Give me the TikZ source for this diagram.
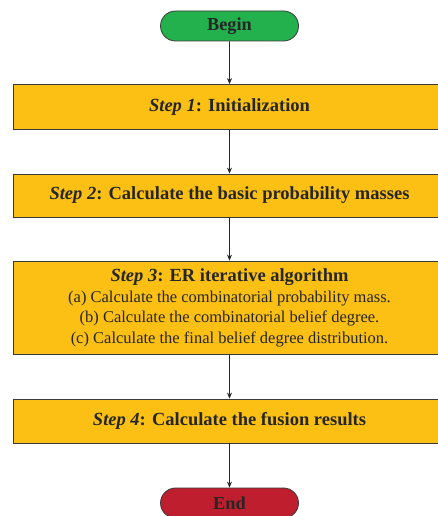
\documentclass[tikz,border=0pt]{standalone}
\usepackage{fontspec}
\setmainfont{Liberation Serif}
\usetikzlibrary{arrows.meta,shapes.misc}
\definecolor{startgreen}{HTML}{22B14C}
\definecolor{stepyellow}{HTML}{FBC013}
\definecolor{endred}{HTML}{BE1E2D}
\definecolor{edgegrey}{HTML}{3A3A3A}
\tikzset{
  x=1pt, y=-1pt,
  terminal/.style={rounded rectangle, draw=edgegrey, line width=0.8pt,
    minimum width=138pt, minimum height=30pt, inner sep=0pt,
    font=\bfseries\fontsize{18.3}{20}\selectfont, text=black!85},
  stepbox/.style={rectangle, draw=edgegrey, line width=0.8pt, fill=stepyellow,
    minimum width=433pt, inner sep=0pt, align=center,
    font=\fontsize{16.5}{20.3}\selectfont, text=black!85},
  headtext/.style={font=\bfseries\fontsize{18.5}{21}\selectfont},
  flow/.style={-{Stealth[length=6pt,width=5pt]}, line width=0.6pt, draw=black!85}
}
\newcommand{\headline}[1]{{\bfseries\fontsize{18.5}{21}\selectfont #1}}
\begin{document}
\begin{tikzpicture}
\useasboundingbox (0,0) rectangle (438,516);
\clip (0,0) rectangle (438,516);
\node[terminal, fill=startgreen] (begin) at (229.5,26) {Begin};
\node[stepbox, minimum height=45pt] (s1) at (229.5,107)
  {\headline{\textit{Step 1}: Initialization}};
\node[stepbox, minimum height=43pt] (s2) at (229.5,195.5)
  {\headline{\textit{Step 2}: Calculate the basic probability masses}};
\node[stepbox, minimum height=93pt] (s3) at (229.5,307.5)
  {\headline{\textit{Step 3}: ER iterative algorithm}\\[1pt]
   (a) Calculate the combinatorial probability mass.\\
   (b) Calculate the combinatorial belief degree.\\
   (c) Calculate the final belief degree distribution.};
\node[stepbox, minimum height=44pt] (s4) at (229.5,421)
  {\headline{\textit{Step 4}: Calculate the fusion results}};
\node[terminal, fill=endred] (end) at (229.5,503) {End};
\draw[flow] (begin) -- (s1);
\draw[flow] (s1) -- (s2);
\draw[flow] (s2) -- (s3);
\draw[flow] (s3) -- (s4);
\draw[flow] (s4) -- (end);
\end{tikzpicture}
\end{document}
